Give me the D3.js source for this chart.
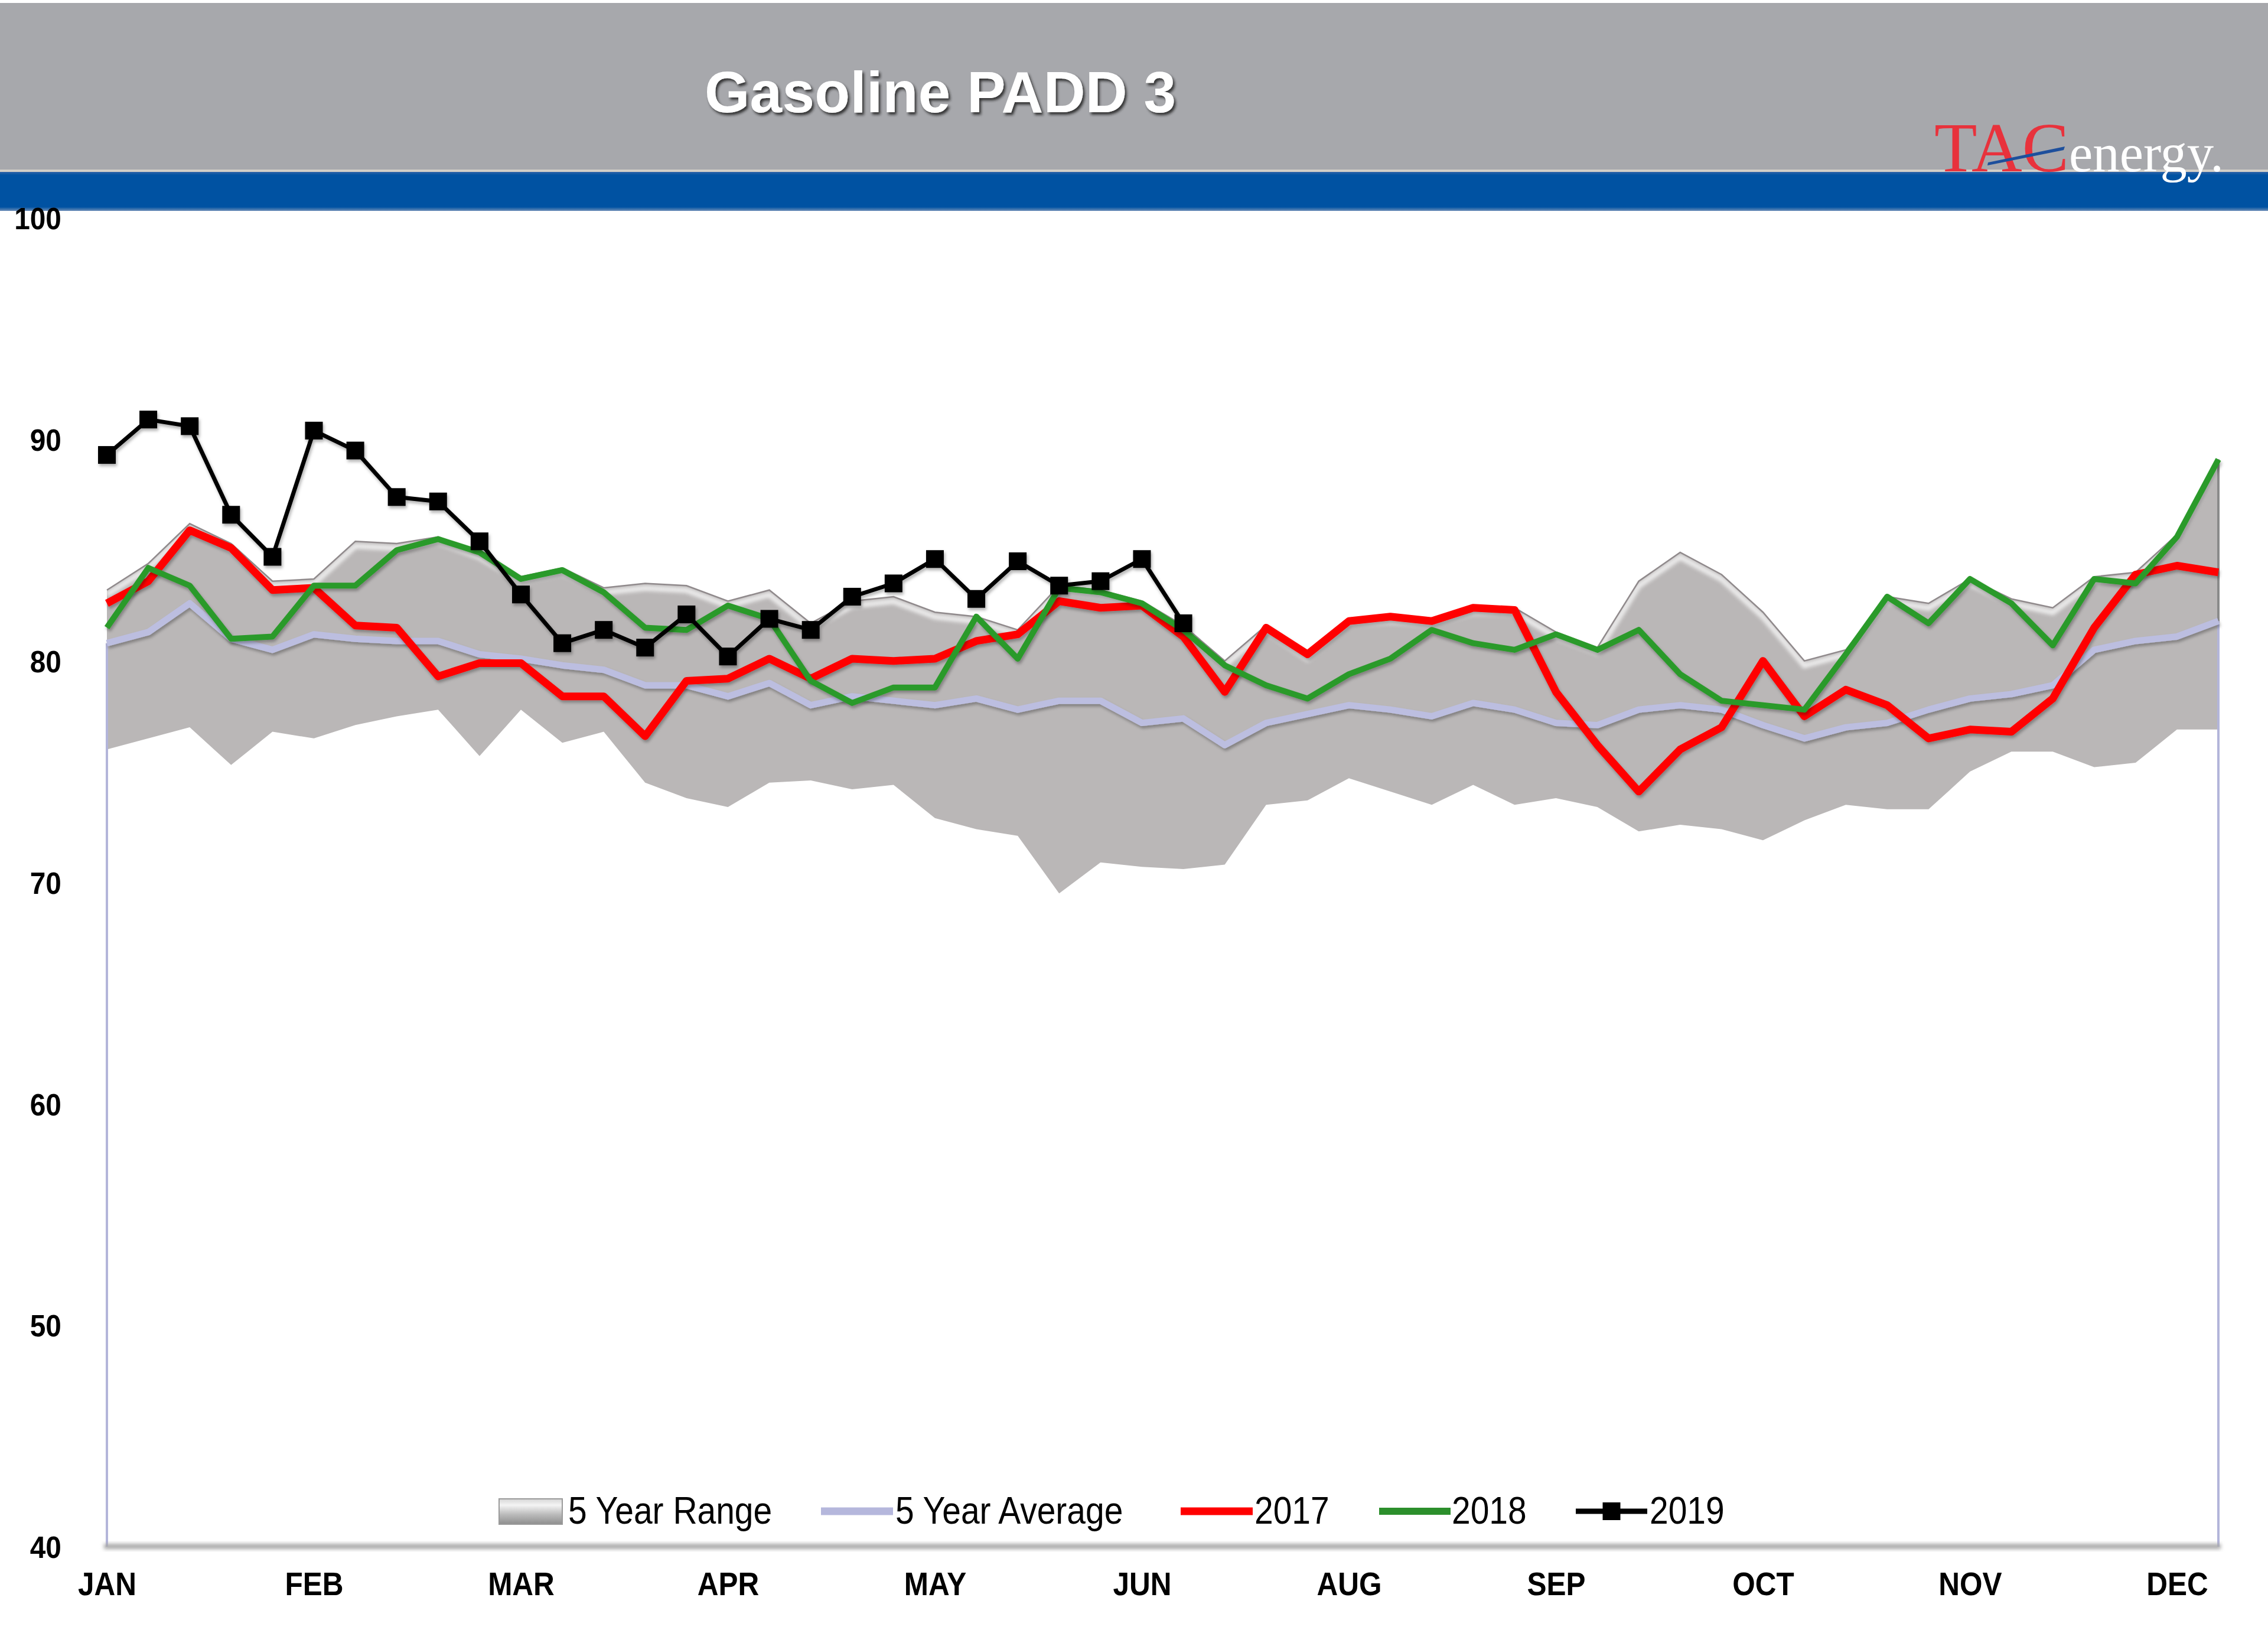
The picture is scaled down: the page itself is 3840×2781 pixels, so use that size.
<!DOCTYPE html>
<html><head><meta charset="utf-8">
<script src="https://cdn.jsdelivr.net/npm/d3@7"></script>
<style>html,body{margin:0;padding:0;background:#fff;} svg{display:block;}</style>
</head><body>
<svg id="c" width="3840" height="2781"></svg>
<script>
// ---------------- data ----------------
const weeks = d3.range(1, 53);
const tickWeeks = [1, 6, 11, 16, 21, 26, 31, 36, 41, 46, 51];
const tickLabels = ["JAN", "FEB", "MAR", "APR", "MAY", "JUN", "AUG", "SEP", "OCT", "NOV", "DEC"];
const yTicks = [40, 50, 60, 70, 80, 90, 100];

const rangeLow = [76.0, 76.5, 77.0, 75.3, 76.8, 76.5, 77.1, 77.5, 77.8, 75.7, 77.8, 76.3, 76.8,
  74.5, 73.8, 73.4, 74.5, 74.6, 74.2, 74.4, 72.9, 72.4, 72.1, 69.5, 70.9, 70.7, 70.6,
  70.8, 73.5, 73.7, 74.7, 74.1, 73.5, 74.4, 73.5, 73.8, 73.4, 72.3, 72.6, 72.4,
  71.9, 72.8, 73.5, 73.3, 73.3, 75.0, 75.9, 75.9, 75.2, 75.4, 76.9, 76.9];
const rangeHigh = [83.2, 84.4, 86.2, 85.3, 83.6, 83.7, 85.4, 85.3, 85.6, 84.9, 83.8, 84.2, 83.3,
  83.5, 83.4, 82.7, 83.2, 81.7, 82.7, 82.9, 82.2, 82.0, 81.4, 83.4, 83.2, 82.7, 81.6,
  80.0, 81.6, 80.3, 81.9, 82.0, 81.9, 82.4, 82.4, 81.3, 80.6, 83.6, 84.9, 83.9,
  82.2, 80.0, 80.5, 82.9, 82.6, 83.7, 82.8, 82.4, 83.8, 84.0, 85.7, 89.1];
const avg5 = [80.8, 81.3, 82.6, 81.0, 80.5, 81.2, 81.0, 80.9, 80.9, 80.3, 80.1, 79.8, 79.6,
  78.9, 78.9, 78.4, 79.0, 78.0, 78.4, 78.2, 78.0, 78.3, 77.8, 78.2, 78.2, 77.2, 77.4,
  76.2, 77.2, 77.6, 78.0, 77.8, 77.5, 78.1, 77.8, 77.2, 77.1, 77.8, 78.0, 77.8,
  77.1, 76.5, 77.0, 77.2, 77.8, 78.3, 78.5, 78.9, 80.5, 80.9, 81.1, 81.8];
const y2017 = [82.6, 83.6, 85.9, 85.1, 83.2, 83.3, 81.6, 81.5, 79.3, 79.9, 79.9, 78.4, 78.4,
  76.6, 79.1, 79.2, 80.1, 79.2, 80.1, 80.0, 80.1, 80.9, 81.2, 82.7, 82.4, 82.5, 81.1,
  78.6, 81.5, 80.3, 81.8, 82.0, 81.8, 82.4, 82.3, 78.6, 76.2, 74.1, 76.0, 77.0,
  80.0, 77.5, 78.7, 78.0, 76.5, 76.9, 76.8, 78.3, 81.5, 83.9, 84.3, 84.0];
const y2018 = [81.5, 84.2, 83.4, 81.0, 81.1, 83.4, 83.4, 85.0, 85.5, 84.9, 83.7, 84.1, 83.1,
  81.5, 81.4, 82.5, 81.9, 79.1, 78.1, 78.8, 78.8, 82.0, 80.1, 83.3, 83.1, 82.6, 81.4,
  79.8, 78.9, 78.3, 79.4, 80.1, 81.4, 80.8, 80.5, 81.2, 80.5, 81.4, 79.4, 78.2,
  78.0, 77.8, 80.3, 82.9, 81.7, 83.7, 82.6, 80.7, 83.7, 83.5, 85.6, 89.1];
const y2019 = [89.3, 90.9, 90.6, 86.6, 84.7, 90.4, 89.5, 87.4, 87.2, 85.4, 83.0, 80.8, 81.4,
  80.6, 82.1, 80.2, 81.9, 81.4, 82.9, 83.5, 84.6, 82.8, 84.5, 83.4, 83.6, 84.6, 81.7];

const titleText = "Gasoline PADD 3";
const legendNames = ["5 Year Range", "5 Year Average", "2017", "2018", "2019"];

// ---------------- drawing ----------------
const svg = d3.select("#c");
const W = 3840, H = 2781;
const defs = svg.append("defs");

const sh = defs.append("filter").attr("id", "lineShadow").attr("x", "-5%").attr("y", "-20%").attr("width", "110%").attr("height", "140%");
sh.append("feDropShadow").attr("dx", 2).attr("dy", 4).attr("stdDeviation", 2.5).attr("flood-color", "#000").attr("flood-opacity", 0.3);

const tsh = defs.append("filter").attr("id", "titleShadow").attr("x", "-5%").attr("y", "-20%").attr("width", "110%").attr("height", "140%");
tsh.append("feDropShadow").attr("dx", 3).attr("dy", 4).attr("stdDeviation", 2).attr("flood-color", "#222").attr("flood-opacity", 0.85);

const blur = defs.append("filter").attr("id", "blur3").attr("x", "-5%").attr("y", "-50%").attr("width", "110%").attr("height", "200%");
blur.append("feGaussianBlur").attr("stdDeviation", 3);

const blueGrad = defs.append("linearGradient").attr("id", "blueBand").attr("x1", 0).attr("y1", 0).attr("x2", 0).attr("y2", 1);
blueGrad.append("stop").attr("offset", 0).attr("stop-color", "#2f64a8");
blueGrad.append("stop").attr("offset", 0.08).attr("stop-color", "#0052a2");
blueGrad.append("stop").attr("offset", 0.9).attr("stop-color", "#0052a2");
blueGrad.append("stop").attr("offset", 1).attr("stop-color", "#6f8fb8");

const swGrad = defs.append("linearGradient").attr("id", "rangeSw").attr("x1", 0).attr("y1", 0).attr("x2", 0).attr("y2", 1);
swGrad.append("stop").attr("offset", 0).attr("stop-color", "#d6d6d6");
swGrad.append("stop").attr("offset", 0.25).attr("stop-color", "#f4f4f4");
swGrad.append("stop").attr("offset", 0.6).attr("stop-color", "#bdbdbd");
swGrad.append("stop").attr("offset", 1).attr("stop-color", "#8e8e8e");

svg.append("rect").attr("width", W).attr("height", H).attr("fill", "#fff");

// header
svg.append("rect").attr("x", 0).attr("y", 5).attr("width", W).attr("height", 284).attr("fill", "#a7a8ac");
svg.append("rect").attr("x", 0).attr("y", 287).attr("width", W).attr("height", 5).attr("fill", "#d3cfc7");
svg.append("rect").attr("x", 0).attr("y", 291).attr("width", W).attr("height", 66).attr("fill", "url(#blueBand)");

svg.append("text").attr("x", 1193).attr("y", 190)
  .attr("font-family", "Liberation Sans, Arial, sans-serif").attr("font-weight", "bold")
  .attr("font-size", 98).attr("fill", "#fff").attr("textLength", 798).attr("lengthAdjust", "spacing")
  .attr("filter", "url(#titleShadow)").text(titleText);

// logo
const logo = svg.append("g");
logo.append("text").attr("x", 3275).attr("y", 290)
  .attr("font-family", "Liberation Serif, Times New Roman, serif").attr("font-size", 118)
  .attr("fill", "#e8323c").attr("textLength", 228).attr("lengthAdjust", "spacingAndGlyphs").text("TAC");
logo.append("path").attr("d", "M3365,280 L3366,275 L3496,248 L3494,254 Z").attr("fill", "#1d4f9c");
logo.append("text").attr("x", 3503).attr("y", 290)
  .attr("font-family", "Liberation Serif, Times New Roman, serif").attr("font-size", 90)
  .attr("fill", "#fff").attr("textLength", 262).attr("lengthAdjust", "spacingAndGlyphs").text("energy.");

// scales
const x = d3.scalePoint().domain(weeks).range([181, 3756]);
const y = d3.scaleLinear().domain([40, 100]).range([2618, 369]);

const chart = svg.append("g");

// 5-year range area
const rangeData = weeks.map((w, i) => ({ w, lo: rangeLow[i], hi: rangeHigh[i] }));
const area = d3.area().x(d => x(d.w)).y0(d => y(d.lo)).y1(d => y(d.hi));
defs.append("clipPath").attr("id", "rangeClip").append("path").attr("d", area(rangeData));
chart.append("path").attr("d", area(rangeData)).attr("fill", "#bab7b7");
const upperLine = d3.line().x(d => x(d.w)).y(d => y(d.hi));
chart.append("g").attr("clip-path", "url(#rangeClip)")
  .append("path").attr("d", upperLine(rangeData)).attr("transform", "translate(0,8)")
  .attr("fill", "none").attr("stroke", "#f6f6f6").attr("stroke-width", 9).attr("opacity", 0.85)
  .attr("filter", "url(#blur3)");
chart.append("path").attr("d", upperLine(rangeData)).attr("fill", "none")
  .attr("stroke", "#908a8c").attr("stroke-width", 2.5);
chart.append("line").attr("x1", x(52)).attr("x2", x(52)).attr("y1", y(rangeHigh[51])).attr("y2", y(rangeLow[51]))
  .attr("stroke", "#8a8a8a").attr("stroke-width", 4);

// 5-year average (area outline + line)
const avgData = weeks.map((w, i) => ({ w, v: avg5[i] }));
chart.append("line").attr("x1", x(1)).attr("x2", x(1)).attr("y1", y(avg5[0])).attr("y2", y(40))
  .attr("stroke", "#b3b5da").attr("stroke-width", 4);
chart.append("line").attr("x1", x(52)).attr("x2", x(52)).attr("y1", y(avg5[51])).attr("y2", y(40))
  .attr("stroke", "#b3b5da").attr("stroke-width", 4);
const line = d3.line().x(d => x(d.w)).y(d => y(d.v));
chart.append("path").attr("d", line(avgData)).attr("fill", "none")
  .attr("stroke", "#bcbee0").attr("stroke-width", 11).attr("stroke-linejoin", "round")
  .attr("filter", "url(#lineShadow)");

// bottom axis line
chart.append("rect").attr("x", 176).attr("y", 2613).attr("width", 3584).attr("height", 9)
  .attr("fill", "#a9a9a9").attr("filter", "url(#blur3)");

// 2017
chart.append("path").attr("d", line(weeks.map((w, i) => ({ w, v: y2017[i] }))))
  .attr("fill", "none").attr("stroke", "#ff0000").attr("stroke-width", 13).attr("stroke-linejoin", "round")
  .attr("filter", "url(#lineShadow)");
// 2018
chart.append("path").attr("d", line(weeks.map((w, i) => ({ w, v: y2018[i] }))))
  .attr("fill", "none").attr("stroke", "#2c9a2c").attr("stroke-width", 10).attr("stroke-linejoin", "round")
  .attr("filter", "url(#lineShadow)");
// 2019
const d19 = y2019.map((v, i) => ({ w: weeks[i], v }));
const g19 = chart.append("g").attr("filter", "url(#lineShadow)");
g19.append("path").attr("d", line(d19)).attr("fill", "none").attr("stroke", "#000")
  .attr("stroke-width", 7).attr("stroke-linejoin", "round");
g19.selectAll("rect.m").data(d19).join("rect").attr("class", "m")
  .attr("x", d => x(d.w) - 15).attr("y", d => y(d.v) - 15).attr("width", 30).attr("height", 30).attr("fill", "#000");

// axes
const yAxis = svg.append("g").attr("transform", "translate(115,0)")
  .call(d3.axisLeft(y).tickValues(yTicks).tickSize(0).tickPadding(12).tickFormat(d3.format("d")));
yAxis.select(".domain").remove();
yAxis.selectAll("text").attr("font-family", "Liberation Sans, Arial, sans-serif").attr("font-weight", "bold")
  .attr("font-size", 52).attr("fill", "#000").attr("dy", "0.36em").attr("transform", "scale(0.92,1)");

const xAxis = svg.append("g").attr("transform", "translate(0,2618)")
  .call(d3.axisBottom(x).tickValues(tickWeeks).tickSize(0).tickFormat((d, i) => tickLabels[i]));
xAxis.select(".domain").remove();
xAxis.selectAll("text").attr("font-family", "Liberation Sans, Arial, sans-serif").attr("font-weight", "bold")
  .attr("font-size", 55).attr("fill", "#000").attr("y", 62).attr("dy", "0.36em").attr("transform", "scale(0.9,1)");

// legend
const lg = svg.append("g");
const lgY = 2558, lgBase = 2579;
const lgItems = [
  { name: legendNames[0], sx: 845, sw: 107, tx: 962 },
  { name: legendNames[1], sx: 1390, sw: 122, tx: 1516 },
  { name: legendNames[2], sx: 1999, sw: 122, tx: 2124 },
  { name: legendNames[3], sx: 2335, sw: 121, tx: 2458 },
  { name: legendNames[4], sx: 2668, sw: 121, tx: 2793 }
];
// range swatch
lg.append("rect").attr("x", lgItems[0].sx).attr("y", 2537).attr("width", lgItems[0].sw).attr("height", 43)
  .attr("fill", "url(#rangeSw)").attr("stroke", "#9a9a9a").attr("stroke-width", 2);
lg.append("line").attr("x1", lgItems[1].sx).attr("x2", lgItems[1].sx + lgItems[1].sw).attr("y1", lgY).attr("y2", lgY)
  .attr("stroke", "#b5b7dc").attr("stroke-width", 13);
lg.append("line").attr("x1", lgItems[2].sx).attr("x2", lgItems[2].sx + lgItems[2].sw).attr("y1", lgY).attr("y2", lgY)
  .attr("stroke", "#ff0000").attr("stroke-width", 13);
lg.append("line").attr("x1", lgItems[3].sx).attr("x2", lgItems[3].sx + lgItems[3].sw).attr("y1", lgY).attr("y2", lgY)
  .attr("stroke", "#2c8f2c").attr("stroke-width", 12);
lg.append("line").attr("x1", lgItems[4].sx).attr("x2", lgItems[4].sx + lgItems[4].sw).attr("y1", lgY).attr("y2", lgY)
  .attr("stroke", "#000").attr("stroke-width", 9);
lg.append("rect").attr("x", lgItems[4].sx + lgItems[4].sw / 2 - 15).attr("y", lgY - 15).attr("width", 30).attr("height", 30).attr("fill", "#000");
lg.selectAll("text.lt").data(lgItems).join("text").attr("class", "lt")
  .attr("transform", d => `translate(${d.tx},${lgBase}) scale(0.89,1)`)
  .attr("font-family", "Liberation Sans, Arial, sans-serif").attr("font-size", 64).attr("fill", "#000")
  .text(d => d.name);
</script>
</body></html>
